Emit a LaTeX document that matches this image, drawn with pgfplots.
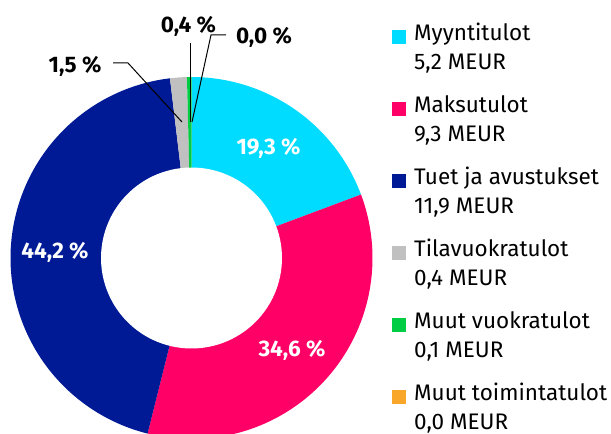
\documentclass[border=0pt]{standalone}
\usepackage{pgfplots}
\pgfplotsset{compat=1.18}
\usepackage{fontspec}
\setmainfont{Fira Sans}
\definecolor{cMyy}{HTML}{00DCFF}
\definecolor{cMak}{HTML}{FF0066}
\definecolor{cTue}{HTML}{001A96}
\definecolor{cTil}{HTML}{C0C0C0}
\definecolor{cMuv}{HTML}{00CC44}
\definecolor{cMut}{HTML}{F9A72B}
\newcommand{\ls}{\rule[-8.5bp]{0pt}{29bp}}
\begin{document}
\begin{tikzpicture}
\begin{axis}[x=1bp,y=1bp,xmin=0,xmax=611,ymin=0,ymax=434,
  scale only axis,hide axis,clip=true,
  legend cell align=left,
  legend style={at={(axis cs:392,416.5)},anchor=north west,draw=none,fill=none,
    inner sep=0pt,
    font=\fontsize{22.5bp}{29bp}\selectfont,row sep=17bp,column sep=6bp,
    cells={align=left,inner sep=0pt}},
  legend image code/.code={\fill[#1,draw=none] (0bp,1bp) rectangle (14bp,15bp);},
]
% donut slices (percent, clockwise from top)
\addplot[fill=cMyy,draw=none,domain=0:19.3,samples=60,forget plot]
  ({191.5+181*cos(90-3.6*x)},{176+181*sin(90-3.6*x)}) -- (axis cs:191.5,176) -- cycle;
\addplot[fill=cMak,draw=none,domain=19.3:53.9,samples=90,forget plot]
  ({191.5+181*cos(90-3.6*x)},{176+181*sin(90-3.6*x)}) -- (axis cs:191.5,176) -- cycle;
\addplot[fill=cTue,draw=none,domain=53.9:98.1,samples=110,forget plot]
  ({191.5+181*cos(90-3.6*x)},{176+181*sin(90-3.6*x)}) -- (axis cs:191.5,176) -- cycle;
\addplot[fill=cTil,draw=none,domain=98.1:99.6,samples=8,forget plot]
  ({191.5+181*cos(90-3.6*x)},{176+181*sin(90-3.6*x)}) -- (axis cs:191.5,176) -- cycle;
\addplot[fill=cMuv,draw=none,domain=99.6:100,samples=4,forget plot]
  ({191.5+181*cos(90-3.6*x)},{176+181*sin(90-3.6*x)}) -- (axis cs:191.5,176) -- cycle;
% hole
\addplot[fill=white,draw=none,domain=0:360,samples=120,forget plot]
  ({191.5+90.5*cos(x)},{176+90.5*sin(x)}) -- cycle;
% leader lines
\addplot[black,line width=1bp,forget plot] coordinates {(113,371) (128,371) (182,312)};
\addplot[black,line width=1bp,forget plot] coordinates {(190,391) (190,312)};
\addplot[black,line width=1bp,forget plot] coordinates {(226,399) (211,399) (192,312)};
% legend
\addlegendimage{fill=cMyy}\addlegendentry{\ls Myyntitulot\\\ls 5,2 MEUR}
\addlegendimage{fill=cMak}\addlegendentry{\ls Maksutulot\\\ls 9,3 MEUR}
\addlegendimage{fill=cTue}\addlegendentry{\ls Tuet ja avustukset\\\ls 11,9 MEUR}
\addlegendimage{fill=cTil}\addlegendentry{\ls Tilavuokratulot\\\ls 0,4 MEUR}
\addlegendimage{fill=cMuv}\addlegendentry{\ls Muut vuokratulot\\\ls 0,1 MEUR}
\addlegendimage{fill=cMut}\addlegendentry{\ls Muut toimintatulot\\\ls 0,0 MEUR}
% labels
\begin{scope}[every node/.style={font=\fontsize{22.5bp}{26bp}\selectfont\bfseries,inner sep=0pt}]
\node[white] at (axis cs:268.5,286) {19,3 \%};
\node[white] at (axis cs:292,84) {34,6 \%};
\node[white] at (axis cs:55,182) {44,2 \%};
\node[black] at (axis cs:75,368) {1,5 \%};
\node[black] at (axis cs:188.5,408) {0,4 \%};
\node[black] at (axis cs:264,397) {0,0 \%};
\end{scope}
\end{axis}
\pgfresetboundingbox
\path[use as bounding box] (0,0) rectangle (611bp,434bp);
\end{tikzpicture}
\end{document}
